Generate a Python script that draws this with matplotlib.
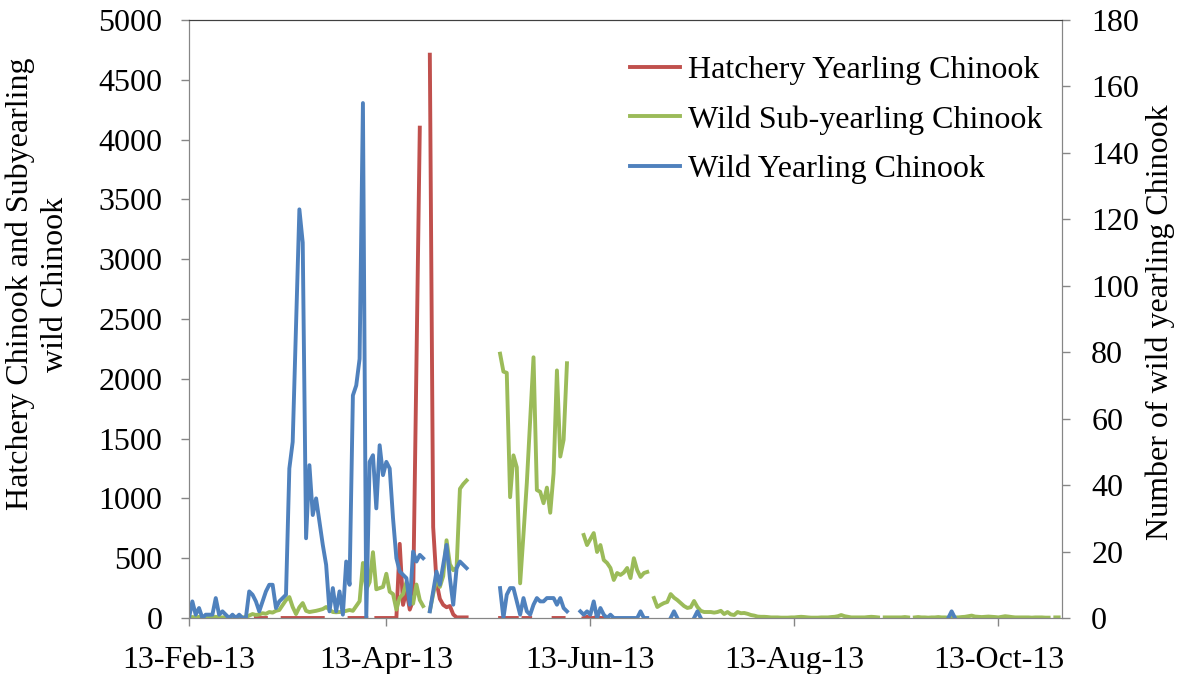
import matplotlib
matplotlib.use("Agg")
import matplotlib.pyplot as plt
import matplotlib.dates as mdates
import numpy as np
import pandas as pd

# daily counts, each run = (first day, values); missing days are left blank
red_runs = [
    ("2013-03-05", [0, 0, 0, 0]),
    ("2013-03-13", [0] * 13),
    ("2013-04-02", [0] * 6),
    ("2013-04-10", [0, 0, 0, 0, 0, 0, 0, 620, 110, 230, 70, 150, 2100, 4100]),
    ("2013-04-26", [4710, 760, 300, 160, 110, 90, 100, 30, 5, 5, 5, 5]),
    ("2013-05-17", [0] * 6),
    ("2013-05-24", [0, 0, 0]),
    ("2013-06-02", [0, 0, 0, 0]),
    ("2013-06-11", [0, 10, 0, 0, 10, 0, 0]),
]

green_runs = [
    ("2013-02-13", [5, 8, 5, 10, 5, 5, 8, 5, 10, 5, 5, 8, 5, 5, 10, 5, 5, 8,
                    20, 33, 25, 30, 40, 35, 50, 45, 60, 67, 109, 150,
                    175, 92, 33, 90, 125, 60, 50, 55, 60, 67,
                    75, 92, 70, 50, 48, 50, 52, 60, 67, 60,
                    100, 140, 460, 240, 300, 550, 240, 250, 260, 370,
                    220, 200, 70, 170, 200, 300, 200, 120, 280, 150, 100]),
    ("2013-04-26", [60, 200, 330, 260, 350, 650, 450, 400, 420, 1080, 1120, 1150]),
    ("2013-05-17", [2210, 2060, 2050, 1010, 1360, 1260, 290, 700, 1130, 1650, 2180,
                    1070, 1055, 960, 1090, 880, 1210, 2070, 1350, 1490, 2130]),
    ("2013-06-11", [694, 610, 660, 710, 552, 610, 485, 460, 418, 318, 376, 360,
                    380, 418, 334, 500, 400, 343, 376, 385]),
    ("2013-07-02", [167, 92, 110, 125, 134, 200, 170, 150, 125, 100, 84, 90, 142, 92,
                    60, 50, 50, 50, 45, 50, 60, 33, 50, 30, 25, 50, 40, 42, 35, 25,
                    20, 12, 10, 10, 8, 5, 5, 5, 3, 3, 3, 5, 5, 8, 10, 8, 5, 3, 3, 3,
                    5, 5, 5, 8, 10, 15, 25, 15, 10, 5, 5, 5, 5, 5, 8, 10, 8, 5]),
    ("2013-09-09", [5, 5, 5, 5, 5, 5, 8, 5]),
    ("2013-09-18", [5, 8, 5, 5, 3, 5, 5, 8, 5, 5, 3, 5, 5, 5, 8, 10, 15, 20, 12, 10,
                    8, 10, 12, 10, 8, 5, 10, 15, 12, 8, 5, 5, 5, 5, 5, 3, 5, 5, 5, 3, 3]),
    ("2013-10-30", [5, 5]),
]

blue_runs = [
    ("2013-02-13", [0, 5, 1, 3, 0, 1, 1, 1, 6, 1, 2, 1, 0, 1, 0, 1, 0, 0,
                    8, 7, 5, 2, 5, 8, 10, 10, 3, 5, 6, 7,
                    45, 53, 88, 123, 113, 24, 46, 31, 36, 29,
                    22, 16, 2, 9, 2, 8, 1, 17, 10, 67,
                    70, 78, 155, 0, 47, 49, 33, 52, 43, 47,
                    45, 30, 18, 14, 13, 12, 4, 20, 17, 19, 18]),
    ("2013-04-26", [2, 8, 14, 10, 16, 22, 12, 4, 15, 17, 16, 15]),
    ("2013-05-17", [9, 0, 7, 9, 9, 5, 1, 6, 2, 1, 4, 6, 5, 5, 6, 6, 6, 4, 6, 3, 2]),
    ("2013-06-10", [2, 1, 2, 1, 5, 0, 3, 1, 0, 1, 0, 0, 0, 0, 0, 0, 0, 0, 2, 0, 0]),
    ("2013-07-07", [0, 2, 0]),
    ("2013-07-14", [0, 2, 0]),
    ("2013-09-28", [0, 2, 0]),
]

labels = ["Hatchery Yearling Chinook", "Wild Sub-yearling Chinook", "Wild Yearling Chinook"]
tick_dates = ["2013-02-13", "2013-04-13", "2013-06-13", "2013-08-13", "2013-10-13"]

days = pd.date_range("2013-02-13", "2013-10-31", freq="D")


def build(runs):
    s = pd.Series(np.nan, index=days)
    for start, vals in runs:
        idx = pd.date_range(start, periods=len(vals), freq="D")
        s[idx] = vals
    return s


red = build(red_runs)
green = build(green_runs)
blue = build(blue_runs)

plt.rcParams['font.family'] = ['Liberation Serif', 'DejaVu Serif']
fs = 23
grey = '#868686'
lw = 2.8

fig = plt.figure(figsize=(11.88, 6.74), dpi=100)
ax = fig.add_axes([189 / 1188, 56 / 674, 873 / 1188, 598 / 674])
ax2 = ax.twinx()

l1, = ax.plot(red.index, red.values, color='#C0504D', lw=lw, label=labels[0])
l2, = ax.plot(green.index, green.values, color='#9BBB59', lw=lw, label=labels[1])
l3, = ax2.plot(blue.index, blue.values, color='#4F81BD', lw=lw, label=labels[2])

ax.set_xlim(pd.Timestamp("2013-02-13"), pd.Timestamp("2013-11-01"))
ax.set_ylim(0, 5000)
ax2.set_ylim(0, 180)
ax.set_yticks(np.arange(0, 5001, 500))
ax2.set_yticks(np.arange(0, 181, 20))
ax.set_xticks(pd.to_datetime(tick_dates))
ax.xaxis.set_major_formatter(mdates.DateFormatter('%d-%b-%y'))

for a in (ax, ax2):
    for side in a.spines:
        a.spines[side].set_color(grey)
    a.spines['top'].set_color('#404040')
    a.tick_params(colors=grey, labelcolor='black', labelsize=fs, length=6, width=1)
ax.tick_params(axis='y', pad=13)
ax2.tick_params(axis='y', pad=15)
ax.tick_params(axis='x', pad=14)

fig.text(38 / 1188, 1 - 284 / 674, "Hatchery Chinook and Subyearling\nwild Chinook",
         rotation=90, ha='center', va='center', fontsize=fs, linespacing=1.25)
fig.text(1160 / 1188, 1 - 322 / 674, "Number of wild yearling Chinook",
         rotation=90, ha='center', va='center', fontsize=fs)

ax2.legend(handles=[l1, l2, l3], loc='upper left', bbox_to_anchor=(0.505, 0.94),
           frameon=False, fontsize=fs, borderpad=0, borderaxespad=0,
           handlelength=1.56, handletextpad=0.25, labelspacing=0.62)

fig.savefig("out.png", dpi=100)
